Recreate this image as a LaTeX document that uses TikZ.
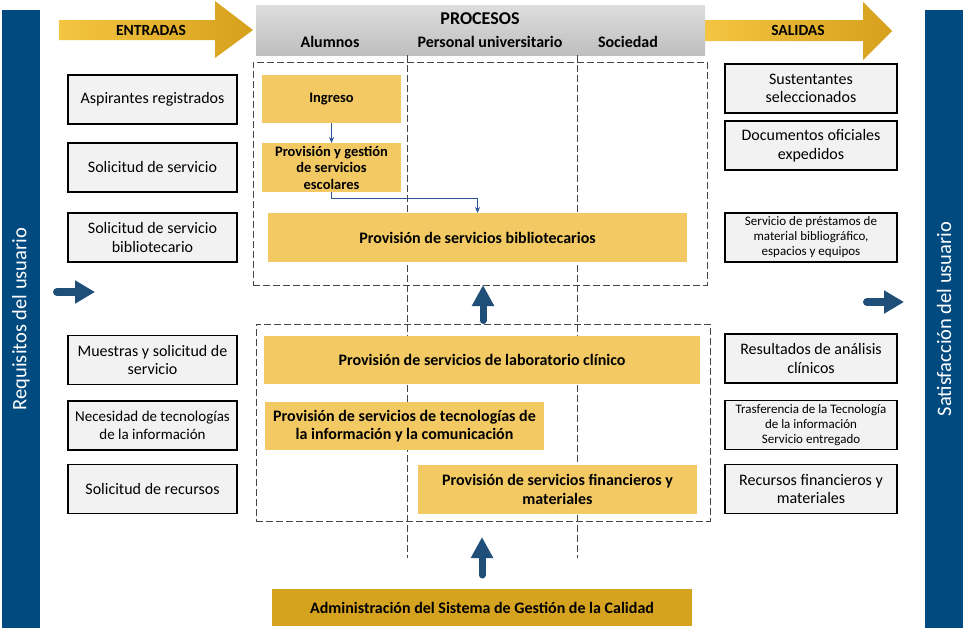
\documentclass[tikz,border=0pt]{standalone}
\usepackage{fontspec}
\setmainfont{Carlito}
\usetikzlibrary{arrows.meta,calc}
\definecolor{barblue}{RGB}{0,74,128}
\definecolor{arrowblue}{RGB}{31,78,121}
\definecolor{linkblue}{RGB}{47,84,150}
\definecolor{procyellow}{RGB}{242,201,98}
\definecolor{admgold}{RGB}{214,163,32}
\definecolor{boxgray}{RGB}{242,242,242}
\definecolor{hdtop}{RGB}{222,222,222}
\definecolor{hdbot}{RGB}{190,190,190}
\definecolor{goldA}{RGB}{244,197,66}
\definecolor{goldB}{RGB}{214,160,28}
\definecolor{dashgray}{RGB}{70,70,70}
\tikzset{
  inbox/.style={draw=black, line width=1.3pt, fill=boxgray, inner sep=0pt, outer sep=0pt,
    align=center, font=\fontsize{16}{18.5}\selectfont, minimum width=169pt, minimum height=49pt},
  outbox/.style={inbox, minimum width=172pt},
  proc/.style={fill=procyellow, inner sep=0pt, outer sep=0pt, align=center,
    font=\bfseries\fontsize{16}{18.5}\selectfont},
  grp/.style={draw=dashgray, dash pattern=on 7pt off 3pt, line width=1pt, inner sep=0pt, outer sep=0pt},
  vline/.style={draw=dashgray, dash pattern=on 7pt off 3pt, line width=1pt},
  bar/.style={fill=barblue, text=white, inner sep=0pt, outer sep=0pt,
    font=\fontsize{20.5}{24}\selectfont},
  bigarrow/.style={draw=arrowblue, line width=7pt, line cap=round,
    -{Triangle[width=21pt,length=21pt]}},
  sidearrow/.style={draw=arrowblue, line width=8pt, line cap=round,
    -{Triangle[width=22pt,length=20pt]}},
  link/.style={draw=linkblue, line width=0.8pt, -{Stealth[length=6pt,width=5pt]}},
  hdtxt/.style={inner sep=0pt, font=\bfseries\fontsize{15.5}{18}\selectfont}
}
\begin{document}
\begin{tikzpicture}[x=1pt,y=-1pt]
\useasboundingbox (0,0) rectangle (968,629);
\fill[white] (0,0) rectangle (968,629);

% side bars
\node[bar, rotate=90, minimum width=618pt, minimum height=38pt] (lbar) at (21,319) {Requisitos del usuario};
\node[bar, rotate=90, minimum width=618pt, minimum height=38pt] (rbar) at (944,319) {Satisfacción del usuario};

% gold arrows
\shade[left color=goldA, right color=goldB] (59,20) -- (215,20) -- (215,1) -- (253,30) -- (215,58) -- (215,40) -- (59,40) -- cycle;
\node[hdtxt] (entradas) at (151,30) {ENTRADAS};
\shade[left color=goldA, right color=goldB] (705,20) -- (863,20) -- (863,2) -- (892,31) -- (863,60) -- (863,41) -- (705,41) -- cycle;
\node[hdtxt] (salidas) at (798,30) {SALIDAS};

% header
\node[top color=hdtop, bottom color=hdbot, inner sep=0pt, outer sep=0pt,
  minimum width=449pt, minimum height=50pt] (hdr) at (480.5,30) {};
\node[hdtxt, font=\bfseries\fontsize{18}{20}\selectfont] (procesos) at (480,19) {PROCESOS};
\node[hdtxt, font=\bfseries\fontsize{16}{18}\selectfont] (alumnos) at (330,42) {Alumnos};
\node[hdtxt, font=\bfseries\fontsize{16}{18}\selectfont] (personal) at (490,42) {Personal universitario};
\node[hdtxt, font=\bfseries\fontsize{16}{18}\selectfont] (sociedad) at (628,42) {Sociedad};

% dashed groups and lanes
\node[grp, minimum width=454pt, minimum height=223pt] (g1) at (480,173.5) {};
\node[grp, minimum width=454pt, minimum height=197pt] (g2) at (483,422.5) {};
\draw[vline] (407,55) -- (407,558);
\draw[vline] (577,55) -- (577,558);

% inputs
\node[inbox] (asp) at (152.5,99.5) {Aspirantes registrados};
\node[inbox] (sol) at (152.5,167.5) {Solicitud de servicio};
\node[inbox] (sbib) at (152.5,237.5) {Solicitud de servicio\\bibliotecario};
\node[inbox] (mue) at (152.5,360) {Muestras y solicitud de\\servicio};
\node[inbox, font=\fontsize{15}{18}\selectfont] (nec) at (152.5,425.5) {Necesidad de tecnologías\\de la información};
\node[inbox] (srec) at (152.5,489) {Solicitud de recursos};

% outputs
\node[outbox] (sus) at (811,88.5) {Sustentantes\\seleccionados};
\node[outbox] (doc) at (811,145.5) {Documentos oficiales\\expedidos};
\node[outbox, font=\fontsize{13}{15}\selectfont] (pre) at (811,237.5) {Servicio de préstamos de\\material bibliográfico,\\espacios y equipos};
\node[outbox] (res) at (811,358.5) {Resultados de análisis\\clínicos};
\node[outbox, font=\fontsize{13}{15}\selectfont] (tra) at (811,425) {Trasferencia de la Tecnología\\de la información\\Servicio entregado};
\node[outbox] (rfm) at (811,489) {Recursos financieros y\\materiales};

% processes
\node[proc, font=\bfseries\fontsize{14.5}{16.5}\selectfont, minimum width=139pt, minimum height=48pt] (ing) at (331.5,99) {Ingreso};
\node[proc, font=\bfseries\fontsize{14.5}{16.5}\selectfont, minimum width=139pt, minimum height=49pt] (pgs) at (331.5,167.5) {Provisión y gestión\\de servicios\\escolares};
\node[proc, minimum width=419pt, minimum height=49pt] (pbib) at (477.5,237.5) {Provisión de servicios bibliotecarios};
\node[proc, minimum width=436pt, minimum height=48pt] (lab) at (482,360) {Provisión de servicios de laboratorio clínico};
\node[proc, minimum width=279pt, minimum height=48pt] (tic) at (404.5,426) {Provisión de servicios de tecnologías de\\la información y la comunicación};
\node[proc, minimum width=279pt, minimum height=49pt] (fin) at (557.5,489.5) {Provisión de servicios financieros y\\materiales};
\node[proc, fill=admgold, minimum width=420pt, minimum height=37pt] (adm) at (482,607.5) {Administración del Sistema de Gestión de la Calidad};

% links
\draw[link] (ing.south) -- (pgs.north);
\draw[link] (pgs.south) -- ++(0,6) -| (pbib.north);

% big arrows
\draw[bigarrow, shorten <=3.5pt] (g2.north) -- (g2.north |- g1.south);
\draw[bigarrow, shorten <=14pt, shorten >=16pt] (adm.north) -- (adm.north |- g2.south);

% side arrows
\coordinate (la1) at (57,292);
\coordinate (la2) at (95,292);
\coordinate (ra1) at (867,302);
\coordinate (ra2) at (904,302);
\draw[sidearrow] (la1) -- (la2);
\draw[sidearrow] (ra1) -- (ra2);
\end{tikzpicture}
\end{document}
